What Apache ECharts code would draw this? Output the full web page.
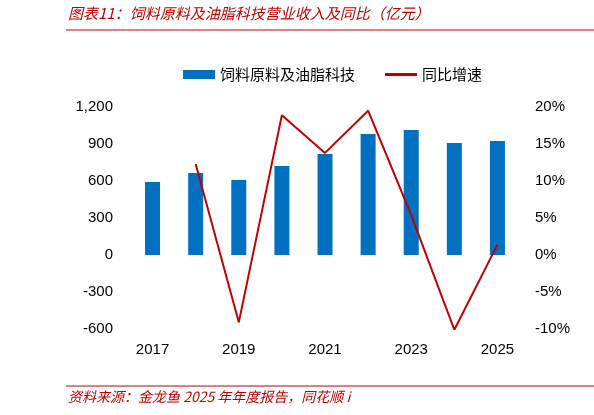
<!DOCTYPE html><html><head><meta charset="utf-8"><script src="https://cdn.jsdelivr.net/npm/echarts@6/dist/echarts.min.js"></script>
<style>body{margin:0}#c{width:594px;height:415px}</style></head><body><div id="c"></div><script>
const years=['2017','2018','2019','2020','2021','2022','2023','2024','2025'];
const revenue=[592,665,608,722,819,981,1014,908,924];
const growth=[null,12.3,-9.1,18.9,13.8,19.5,5.4,-10.1,1.4];
const leftTicks=[-600,1200,300];
const rightTicks=[-10,20,5];
const c=echarts.init(document.getElementById('c'));
const f='"Noto Sans CJK SC", sans-serif';
c.setOption({
 animation:false,
 graphic:[
  {type:'text',left:68,top:6,style:{text:'图表11：饲料原料及油脂科技营业收入及同比（亿元）',font:'italic 15px '+f,fill:'#c00000'}},
  {type:'line',shape:{x1:66,y1:30,x2:594,y2:30},style:{stroke:'#c00000',lineWidth:1}},
  {type:'line',shape:{x1:66,y1:386,x2:594,y2:386},style:{stroke:'#c00000',lineWidth:1}},
  {type:'text',left:68,top:390,style:{text:'资料来源：金龙鱼 2025 年年度报告，同花顺 i',font:'italic 14px '+f,fill:'#c00000'}}
 ],
 legend:{top:62,left:178,itemGap:30,textStyle:{fontFamily:f,fontSize:15,color:'#000'},
  data:[{name:'饲料原料及油脂科技',icon:'rect'},{name:'同比增速',icon:'path://M0,0H20V2H0Z'}],itemWidth:32,itemHeight:9},
 grid:{left:131,right:75,top:107,bottom:86},
 xAxis:{type:'category',data:years,axisTick:{show:false},axisLine:{onZero:false,show:false},
  axisLabel:{fontSize:15,color:'#000',fontFamily:'Liberation Sans',margin:13}},
 yAxis:[
  {type:'value',min:leftTicks[0],max:leftTicks[1],interval:leftTicks[2],splitLine:{show:false},
   axisLabel:{fontSize:15,color:'#000',fontFamily:'Liberation Sans',margin:18,formatter:v=>v.toLocaleString('en-US')}},
  {type:'value',min:rightTicks[0],max:rightTicks[1],interval:rightTicks[2],splitLine:{show:false},
   axisLabel:{fontSize:15,color:'#000',fontFamily:'Liberation Sans',margin:16,formatter:v=>v+'%'}}
 ],
 series:[
  {name:'饲料原料及油脂科技',type:'bar',data:revenue,barWidth:15,itemStyle:{color:'#0070c0'}},
  {name:'同比增速',type:'line',yAxisIndex:1,data:growth,symbol:'none',lineStyle:{color:'#c00000',width:2},itemStyle:{color:'#c00000'}}
 ]
});
</script></body></html>
